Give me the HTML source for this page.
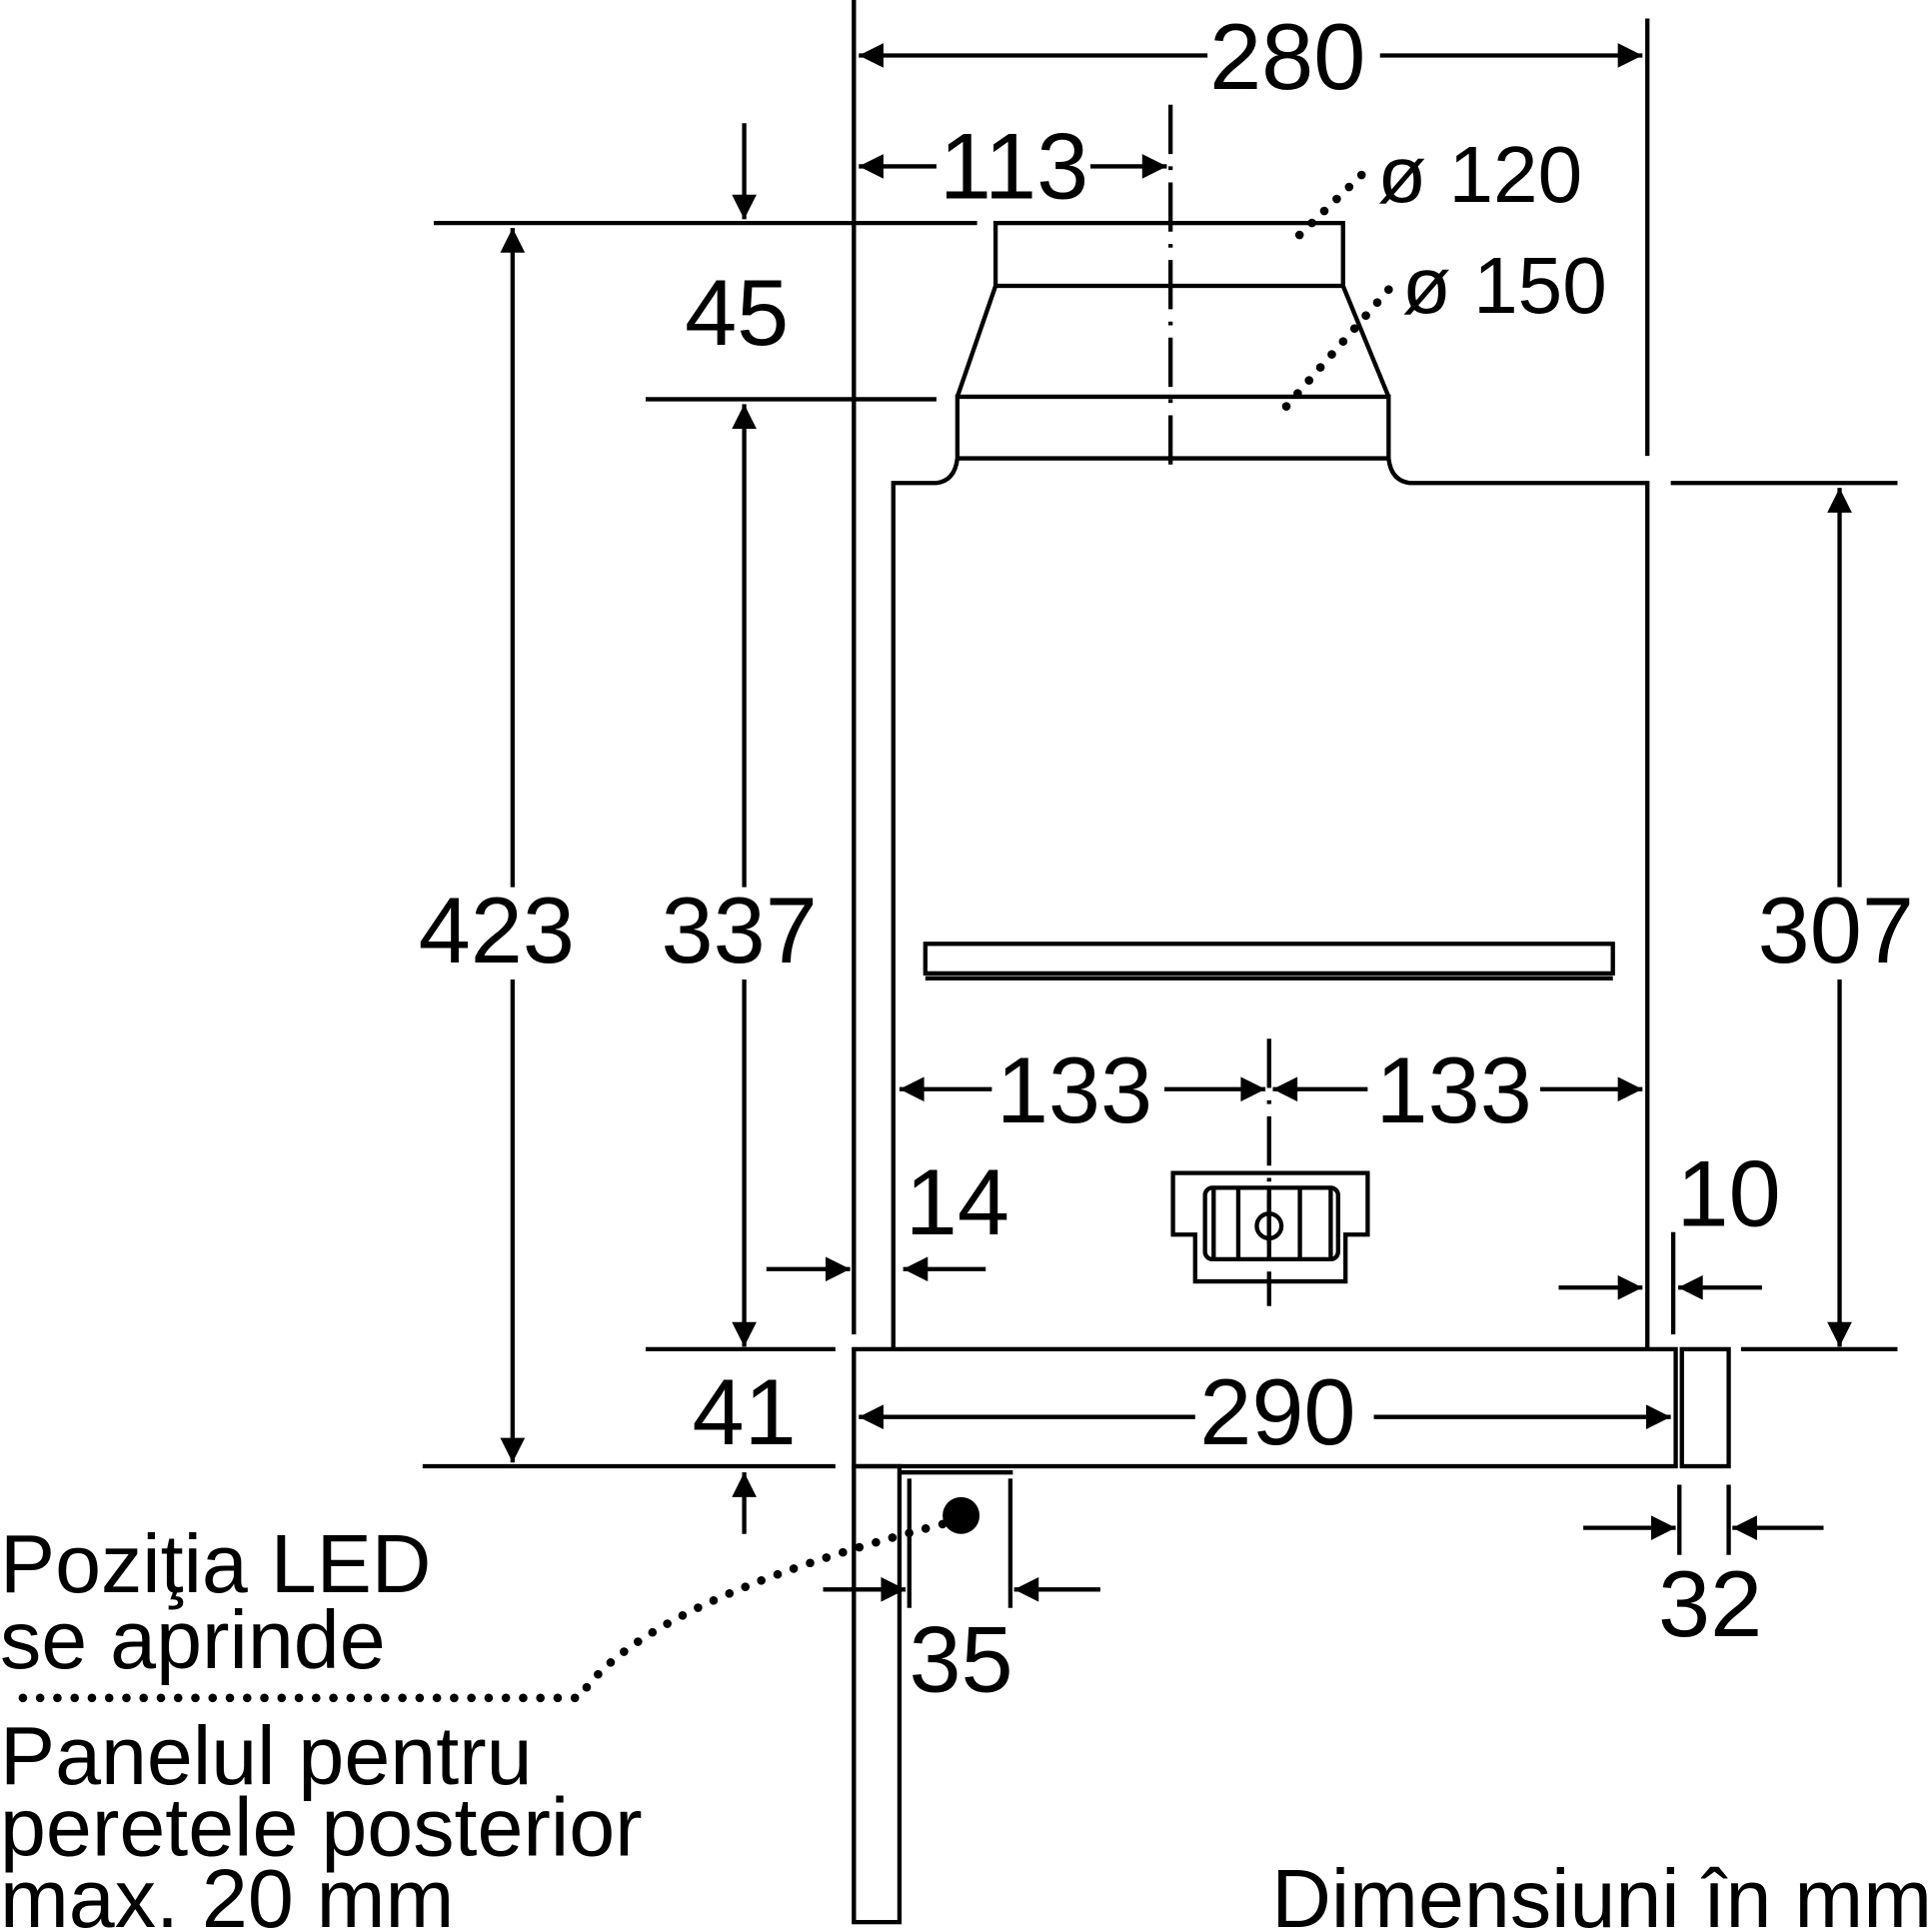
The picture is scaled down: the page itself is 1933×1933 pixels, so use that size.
<!DOCTYPE html>
<html><head><meta charset="utf-8"><style>html,body{margin:0;padding:0;background:#fff}svg{display:block}</style></head>
<body>
<svg width="1933" height="1933" viewBox="0 0 1568 1568" xmlns="http://www.w3.org/2000/svg" font-family="Liberation Sans, sans-serif">
<defs>
<marker id="a" viewBox="0 0 10 10" refX="10" refY="5" markerWidth="40" markerHeight="20" markerUnits="userSpaceOnUse" orient="auto"><path d="M0,0L10,5L0,10z" fill="#000"/></marker>
</defs>
<g stroke="#000" stroke-width="3.5" fill="none">
<line x1="693" y1="0" x2="693" y2="1083"/>
<rect x="693" y="1190" width="37" height="370"/>
<path d="M725,1095V392H760Q775,390 777,372V322H1127V372Q1129,390 1144,392H1337V1095"/>
<rect x="808" y="181" width="282" height="51"/>
<path d="M808,232L777,322M1090,232L1127,322M777,372H1127"/>
<rect x="751" y="766" width="558" height="24"/>
<line x1="751" y1="794" x2="1309" y2="794"/>
<rect x="693" y="1095" width="667" height="95"/>
<rect x="1365" y="1095" width="38" height="95"/>
<line x1="1337" y1="15" x2="1337" y2="370"/>
<line x1="352" y1="181" x2="793" y2="181"/>
<line x1="524" y1="324" x2="760" y2="324"/>
<line x1="1356" y1="392" x2="1540" y2="392"/>
<line x1="524" y1="1095" x2="678" y2="1095"/>
<line x1="1413" y1="1095" x2="1540" y2="1095"/>
<line x1="343" y1="1190" x2="678" y2="1190"/>
<line x1="1358" y1="1000" x2="1358" y2="1083"/>
<line x1="730" y1="1195" x2="822" y2="1195"/>
<line x1="738" y1="1200" x2="738" y2="1305"/>
<line x1="820" y1="1200" x2="820" y2="1305"/>
<line x1="1363" y1="1205" x2="1363" y2="1262"/>
<line x1="1403" y1="1205" x2="1403" y2="1262"/>
<line x1="950" y1="85" x2="950" y2="385" stroke-dasharray="40,10,3,10"/>
<line x1="1030" y1="843" x2="1030" y2="1060" stroke-dasharray="40,10,3,10"/>
<path d="M952,952H1110V1002H1092V1040H970V1002H952Z"/>
<rect x="978" y="964" width="108" height="58" rx="6"/>
<path d="M985,964V1022M1005,964V1022M1030,964V1022M1055,964V1022M1080,964V1022"/>
<circle cx="1030" cy="995" r="10"/>
<g marker-end="url(#a)">
<line x1="980" y1="45" x2="697" y2="45"/><line x1="1120" y1="45" x2="1333" y2="45"/>
<line x1="760" y1="135" x2="697" y2="135"/><line x1="885" y1="135" x2="947" y2="135"/>
<line x1="604" y1="100" x2="604" y2="178"/>
<line x1="416" y1="720" x2="416" y2="185"/><line x1="416" y1="795" x2="416" y2="1187"/>
<line x1="604" y1="720" x2="604" y2="328"/><line x1="604" y1="795" x2="604" y2="1093"/>
<line x1="1493" y1="720" x2="1493" y2="396"/><line x1="1493" y1="795" x2="1493" y2="1093"/>
<line x1="805" y1="884" x2="730" y2="884"/><line x1="945" y1="884" x2="1027" y2="884"/>
<line x1="1110" y1="884" x2="1033" y2="884"/><line x1="1250" y1="884" x2="1333" y2="884"/>
<line x1="622" y1="1030" x2="690" y2="1030"/><line x1="800" y1="1030" x2="733" y2="1030"/>
<line x1="1265" y1="1045" x2="1333" y2="1045"/><line x1="1430" y1="1045" x2="1362" y2="1045"/>
<line x1="970" y1="1150" x2="697" y2="1150"/><line x1="1115" y1="1150" x2="1356" y2="1150"/>
<line x1="604" y1="1245" x2="604" y2="1195"/>
<line x1="668" y1="1290" x2="735" y2="1290"/><line x1="893" y1="1290" x2="823" y2="1290"/>
<line x1="1285" y1="1240" x2="1360" y2="1240"/><line x1="1480" y1="1240" x2="1406" y2="1240"/>
</g>
</g>
<g stroke="#000" stroke-width="7" stroke-linecap="round" stroke-dasharray="0,14" fill="none">
<line x1="1105" y1="142" x2="1045" y2="200"/>
<line x1="1127" y1="235" x2="1035" y2="340"/>
<path d="M765,1237Q520,1300 470,1378H10"/>
</g>
<circle cx="780" cy="1230" r="15" fill="#000"/>
<g font-size="76" text-anchor="middle" fill="#000">
<text x="1045" y="72">280</text>
<text x="823" y="161">113</text>
<text x="598" y="280">45</text>
<text x="403" y="781">423</text>
<text x="600" y="781">337</text>
<text x="1490" y="781">307</text>
<text x="872" y="911">133</text>
<text x="1180" y="911">133</text>
<text x="777" y="1002">14</text>
<text x="1403" y="995">10</text>
<text x="1037" y="1172">290</text>
<text x="604" y="1172">41</text>
<text x="780" y="1373">35</text>
<text x="1388" y="1328">32</text>
</g>
<g font-size="65" fill="#000">
<text x="1118" y="164">ø 120</text>
<text x="1138" y="254">ø 150</text>
</g>
<g font-size="67" fill="#000">
<text x="0" y="1292">Poziţia LED</text>
<text x="0" y="1354">se aprinde</text>
<text x="0" y="1448">Panelul pentru</text>
<text x="0" y="1506">peretele posterior</text>
<text x="0" y="1564">max. 20 mm</text>
<text x="1568" y="1564" text-anchor="end">Dimensiuni în mm</text>
</g>
</svg>
</body></html>
